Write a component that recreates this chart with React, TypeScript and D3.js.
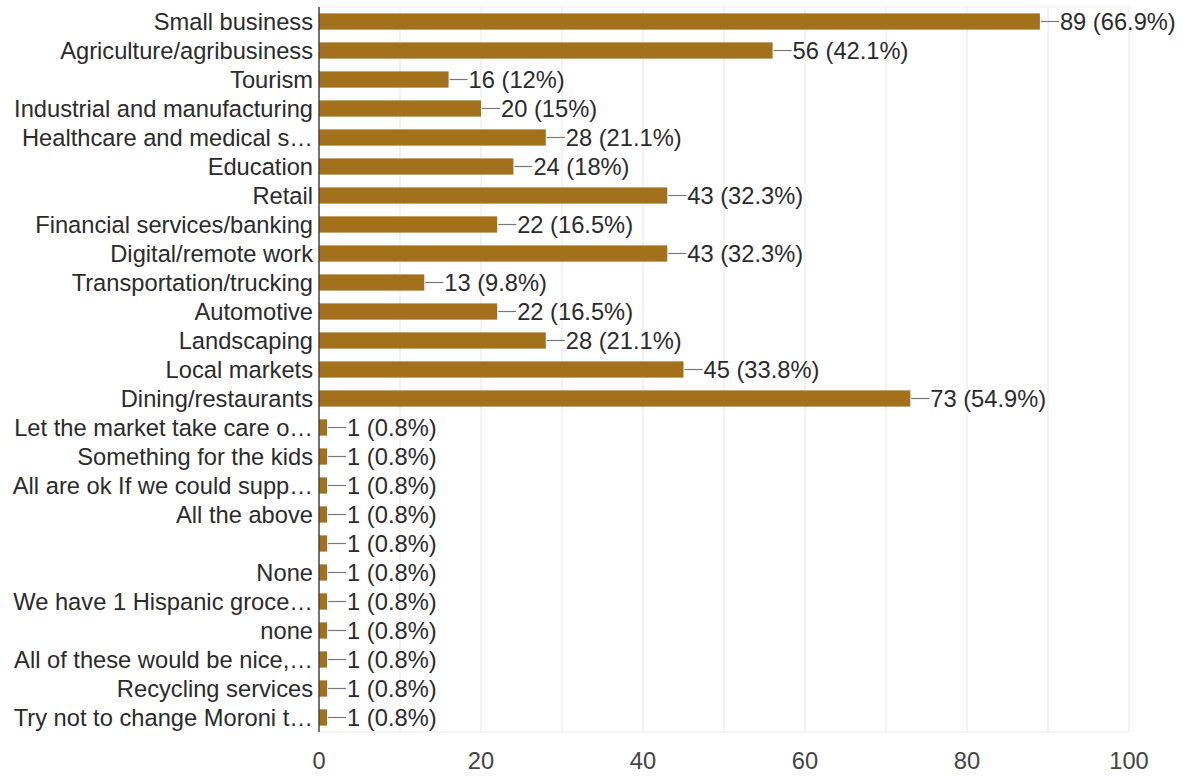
import React from "react";
import * as d3 from "d3";

const categories = [
  "Small business",
  "Agriculture/agribusiness",
  "Tourism",
  "Industrial and manufacturing",
  "Healthcare and medical s…",
  "Education",
  "Retail",
  "Financial services/banking",
  "Digital/remote work",
  "Transportation/trucking",
  "Automotive",
  "Landscaping",
  "Local markets",
  "Dining/restaurants",
  "Let the market take care o…",
  "Something for the kids",
  "All are ok If we could supp…",
  "All the above",
  "",
  "None",
  "We have 1 Hispanic groce…",
  "none",
  "All of these would be nice,…",
  "Recycling services",
  "Try not to change Moroni t…",
];
const counts = [89, 56, 16, 20, 28, 24, 43, 22, 43, 13, 22, 28, 45, 73, 1, 1, 1, 1, 1, 1, 1, 1, 1, 1, 1];
const percents = [
  "66.9%", "42.1%", "12%", "15%", "21.1%", "18%", "32.3%", "16.5%", "32.3%", "9.8%",
  "16.5%", "21.1%", "33.8%", "54.9%", "0.8%", "0.8%", "0.8%", "0.8%", "0.8%", "0.8%",
  "0.8%", "0.8%", "0.8%", "0.8%", "0.8%",
];
const xTicks = [0, 20, 40, 60, 80, 100];
const gridTicks = [10, 20, 30, 40, 50, 60, 70, 80, 90, 100];

export default function App() {
  const W = 1183, H = 776;
  const left = 319, right = 1129, top = 7, bottom = 732;
  const x = d3.scaleLinear().domain([0, 100]).range([left, right]);
  const y = d3.scaleBand<number>().domain(d3.range(categories.length)).range([top, bottom]).paddingInner(0.44).paddingOuter(0.22);
  const font = "Arial, 'Liberation Sans', sans-serif";
  const fs = 23.7;
  return (
    <svg width={W} height={H} style={{ position: "absolute", left: 0, top: 0, background: "#fff" }} fontFamily={font}>
      <rect x={0} y={0} width={W} height={H} fill="#fff" />
      {gridTicks.map((t) => (
        <line key={"g" + t} x1={x(t)} x2={x(t)} y1={top} y2={bottom} stroke="#ebebeb" strokeWidth={1.2} />
      ))}
      <line x1={left} x2={right} y1={top} y2={top} stroke="#ebebeb" strokeWidth={1.2} />
      <line x1={left} x2={right} y1={bottom} y2={bottom} stroke="#ebebeb" strokeWidth={1.2} />
      {counts.map((c, i) => {
        const yy = y(i)!;
        const bh = y.bandwidth();
        const xe = x(c);
        const cy = yy + bh / 2;
        return (
          <g key={i}>
            <rect x={left} y={yy} width={xe - left} height={bh} fill="#a3701b" />
            <line x1={xe + 1} x2={xe + 19} y1={cy} y2={cy} stroke="#777" strokeWidth={1.2} />
            <text x={xe + 20} y={cy} dy="0.36em" fontSize={fs} fill="#2b2b2b">
              {`${c} (${percents[i]})`}
            </text>
            <text x={left - 6} y={cy} dy="0.36em" fontSize={fs} fill="#2b2b2b" textAnchor="end">
              {categories[i]}
            </text>
          </g>
        );
      })}
      <line x1={left} x2={left} y1={top} y2={bottom} stroke="#444" strokeWidth={1.5} />
      {xTicks.map((t) => (
        <text key={"t" + t} x={x(t)} y={760} dy="0.36em" fontSize={fs} fill="#444" textAnchor="middle">
          {t}
        </text>
      ))}
    </svg>
  );
}
